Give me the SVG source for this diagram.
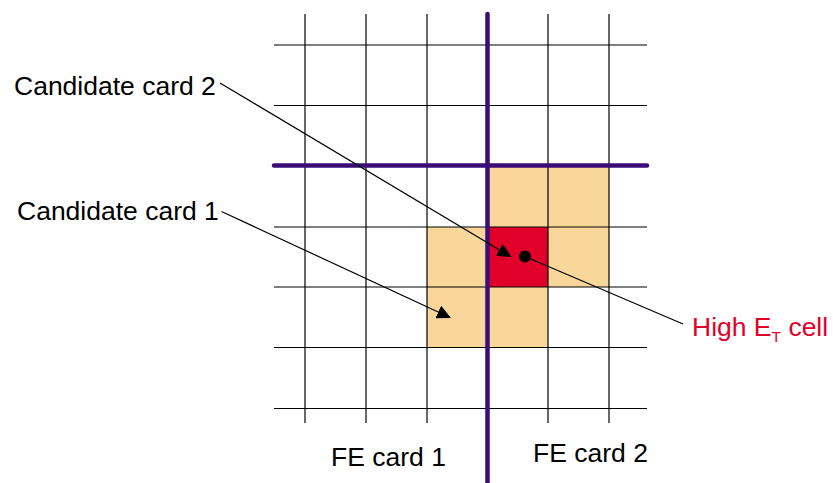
<svg xmlns="http://www.w3.org/2000/svg" width="833" height="483" viewBox="0 0 833 483">
<style>
.g{stroke:#000;stroke-width:1.2;fill:none}
.b{stroke:#3B0C78;stroke-width:4.5;stroke-linecap:round;fill:none}
.o{fill:#F9D79B}
.r{fill:#E0002A}
.t{font-family:"Liberation Sans",Arial,sans-serif;font-size:26.5px;fill:#000}
.c{stroke:#000;stroke-width:1.2;fill:none}
</style>
<defs>
<marker id="ah" viewBox="0 0 14 14" refX="13" refY="7" markerWidth="14" markerHeight="14" markerUnits="userSpaceOnUse" orient="auto">
<path d="M0,0 L14,7 L0,14 Z" fill="#000"/>
</marker>
</defs>
<g id="cells">
<rect class="o" x="487.5" y="165.5" width="121.5" height="61.5"/>
<rect class="o" x="427" y="227" width="182" height="60"/>
<rect class="o" x="427" y="287" width="121" height="60.5"/>
<rect class="r" x="487.5" y="227" width="60.5" height="60"/>
</g>
<g id="grid">
<line class="g" x1="305" y1="14" x2="305" y2="423"/>
<line class="g" x1="366" y1="14" x2="366" y2="423"/>
<line class="g" x1="427" y1="14" x2="427" y2="423"/>
<line class="g" x1="548" y1="14" x2="548" y2="423"/>
<line class="g" x1="609" y1="14" x2="609" y2="423"/>
<line class="g" x1="274" y1="45" x2="647" y2="45"/>
<line class="g" x1="274" y1="105.5" x2="647" y2="105.5"/>
<line class="g" x1="274" y1="227" x2="647" y2="227"/>
<line class="g" x1="274" y1="287" x2="647" y2="287"/>
<line class="g" x1="274" y1="347.5" x2="647" y2="347.5"/>
<line class="g" x1="274" y1="408.5" x2="647" y2="408.5"/>
</g>
<g id="boundaries">
<line class="b" x1="487.5" y1="14" x2="487.5" y2="485"/>
<line class="b" x1="274" y1="165.5" x2="647" y2="165.5"/>
</g>
<g id="connectors">
<line class="c" x1="220" y1="83" x2="510.5" y2="256.5" marker-end="url(#ah)"/>
<line class="c" x1="221.5" y1="211.5" x2="450" y2="317.5" marker-end="url(#ah)"/>
<line class="c" x1="525" y1="256.5" x2="683" y2="324"/>
<circle cx="525" cy="256.5" r="6" fill="#000"/>
</g>
<g id="label-cand2"><text class="t" x="14" y="95">Candidate card 2</text></g>
<g id="label-cand1"><text class="t" x="17" y="220">Candidate card 1</text></g>
<g id="label-high"><text class="t" x="692" y="336" style="fill:#E0002A">High E<tspan font-size="15.5" dy="6">T</tspan><tspan dy="-6"> cell</tspan></text></g>
<g id="label-fe1"><text class="t" x="331" y="466">FE card 1</text></g>
<g id="label-fe2"><text class="t" x="533" y="462">FE card 2</text></g>
</svg>
